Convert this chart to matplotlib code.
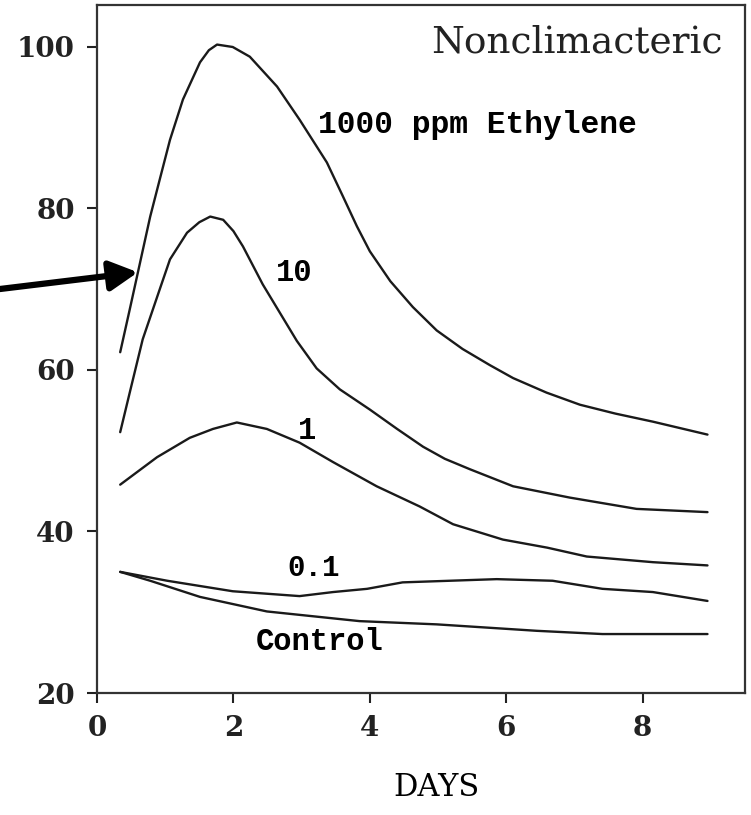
import numpy as np
import matplotlib.pyplot as plt

# Werte (Tage, Atmung)
x_1000 = [0.34, 0.48, 0.60, 0.78, 0.92, 1.07, 1.26, 1.51, 1.64, 1.76, 1.99, 2.24, 2.64, 2.97, 3.37, 3.60, 3.81, 4.0, 4.3, 4.63, 4.98, 5.36, 5.76, 6.1, 6.59, 7.08, 7.6, 8.15, 8.95]
y_1000 = [62.2, 67.5, 72.1, 79.0, 83.6, 88.5, 93.5, 98.1, 99.6, 100.3, 100.0, 98.8, 95.1, 91.0, 85.7, 81.6, 77.8, 74.7, 71.0, 67.8, 64.9, 62.6, 60.6, 59.0, 57.2, 55.7, 54.6, 53.6, 52.0]

x_10 = [0.34, 0.48, 0.67, 0.92, 1.07, 1.32, 1.50, 1.66, 1.85, 2.0, 2.14, 2.43, 2.68, 2.93, 3.22, 3.56, 4.0, 4.4, 4.78, 5.1, 5.47, 6.1, 6.93, 7.91, 8.95]
y_10 = [52.3, 57.2, 63.8, 70.0, 73.7, 77.0, 78.3, 79.0, 78.6, 77.2, 75.3, 70.6, 67.1, 63.6, 60.2, 57.6, 55.1, 52.7, 50.5, 49.0, 47.7, 45.6, 44.2, 42.8, 42.4]

x_1 = [0.34, 0.88, 1.36, 1.70, 2.05, 2.49, 2.97, 3.46, 4.10, 4.73, 5.22, 5.95, 6.6, 7.18, 8.15, 8.95]
y_1 = [45.8, 49.2, 51.6, 52.7, 53.5, 52.7, 51.0, 48.6, 45.6, 43.1, 40.9, 39.0, 38.0, 36.9, 36.2, 35.8]

x_01 = [0.34, 1.03, 1.99, 2.97, 3.46, 3.96, 4.48, 5.86, 6.68, 7.41, 8.15, 8.95]
y_01 = [35.0, 33.9, 32.6, 32.0, 32.5, 32.9, 33.7, 34.1, 33.9, 32.9, 32.5, 31.4]

x_ctrl = [0.34, 0.78, 1.51, 2.49, 3.85, 4.98, 6.45, 7.41, 8.95]
y_ctrl = [35.0, 33.9, 31.9, 30.1, 28.9, 28.5, 27.7, 27.3, 27.3]

fig = plt.figure(figsize=(7.51, 8.15), dpi=100)
ax = fig.add_axes([97/751, 1 - 693/815, (745 - 97)/751, (693 - 5)/815])

for xs, ys in [(x_1000, y_1000), (x_10, y_10), (x_1, y_1), (x_01, y_01), (x_ctrl, y_ctrl)]:
    ax.plot(xs, ys, color='#1a1a1a', lw=1.7, solid_capstyle='round', solid_joinstyle='round')

ax.set_xlim(0, 9.5)
ax.set_ylim(20, 105.2)
ax.set_xticks([0, 2, 4, 6, 8])
ax.set_yticks([20, 40, 60, 80, 100])
ax.tick_params(direction='out', length=7, width=1.5, pad=9, colors='#222222', labelsize=20)
for lab in ax.get_xticklabels() + ax.get_yticklabels():
    lab.set_fontfamily('DejaVu Serif')
    lab.set_fontweight('bold')
for s in ax.spines.values():
    s.set_linewidth(1.6)
    s.set_color('#333333')

mono = 'Liberation Mono'
ax.text(9.17, 100.6, 'Nonclimacteric', family='DejaVu Serif', fontsize=27, ha='right', va='center', color='#222222')
ax.text(3.24, 90.4, '1000 ppm Ethylene', family=mono, weight='bold', fontsize=22.5, ha='left', va='center')
ax.text(2.62, 72.0, '10', family=mono, weight='bold', fontsize=22, ha='left', va='center')
ax.text(3.08, 52.5, '1', family=mono, weight='bold', fontsize=22, ha='center', va='center')
ax.text(3.18, 35.5, '0.1', family=mono, weight='bold', fontsize=21, ha='center', va='center')
ax.text(3.27, 26.3, 'Control', family=mono, weight='bold', fontsize=22, ha='center', va='center')

fig.text(436/751, 1 - 787/815, 'DAYS', family='DejaVu Serif', fontsize=22, ha='center', va='center')

# Pfeil von links auf die 1000-ppm-Kurve
ax.annotate('', xy=(0.6, 72.1), xycoords='data',
            xytext=(0.0, 1 - 289/815), textcoords='figure fraction',
            arrowprops=dict(arrowstyle='-|>,head_length=0.85,head_width=0.45', lw=4.5,
                            color='black', mutation_scale=20, shrinkA=0, shrinkB=0),
            annotation_clip=False)

fig.savefig('out.png', dpi=100)
